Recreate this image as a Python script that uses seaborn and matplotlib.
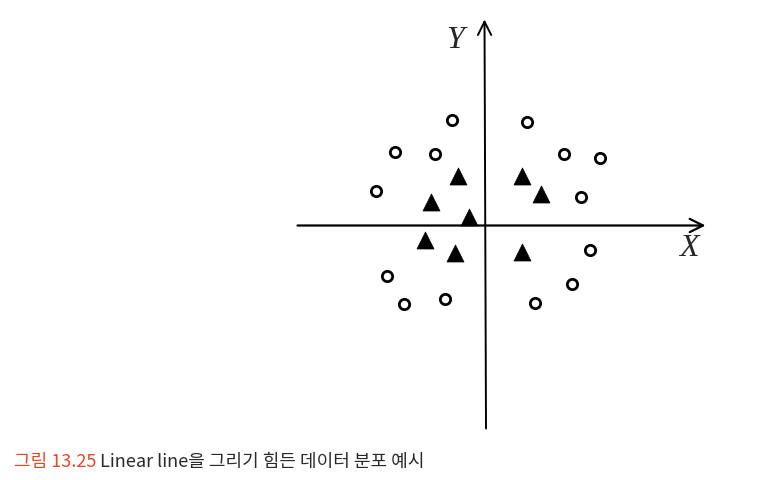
import matplotlib
matplotlib.use('Agg')
import matplotlib.pyplot as plt
import seaborn as sns
import pandas as pd

# circles (outer ring) and triangles (inner cluster)
circle_x = [-3.2, 4.3, -8.9, -4.9, 8.0, 11.6, -10.8, 9.7, 10.6, -9.7, 8.8, -8.0, -3.9, 5.1]
circle_y = [10.5, 10.3, 7.3, 7.1, 7.1, 6.7, 3.4, 2.8, -2.5, -5.1, -5.9, -7.9, -7.4, -7.8]
tri_x = [-2.7, 3.7, 5.6, -5.4, -1.6, -6.0, -3.0, 3.7]
tri_y = [5.0, 5.0, 3.2, 2.4, 0.9, -1.4, -2.7, -2.6]

circles = pd.DataFrame({'x': circle_x, 'y': circle_y})
triangles = pd.DataFrame({'x': tri_x, 'y': tri_y})

sns.set_style('white')
plt.rcParams['font.family'] = ['Noto Sans CJK KR', 'DejaVu Sans']

fig = plt.figure(figsize=(7.62, 4.81), dpi=100)
ax = fig.add_axes([0, 0, 1, 1])
ax.set_xlim(-48.45, 27.75)
ax.set_ylim(-25.45, 22.65)
ax.axis('off')

# axes with open arrow heads
ax.annotate('', xy=(22.1, 0), xytext=(-18.7, 0),
            arrowprops=dict(arrowstyle='->', lw=1.6, color='black',
                            mutation_scale=24, shrinkA=0, shrinkB=0))
ax.annotate('', xy=(0, 20.6), xytext=(0.15, -20.3),
            arrowprops=dict(arrowstyle='->', lw=1.4, color='black',
                            mutation_scale=24, shrinkA=0, shrinkB=0))

ax.text(-2.9, 18.6, 'Y', family='Liberation Serif', style='italic',
        fontsize=23, ha='center', va='center')
ax.text(20.4, -2.2, 'X', family='Liberation Serif', style='italic',
        fontsize=23, ha='center', va='center')

sns.scatterplot(data=circles, x='x', y='y', ax=ax, marker='o', s=55,
                facecolors='none', edgecolor='black', linewidth=2)
sns.scatterplot(data=triangles, x='x', y='y', ax=ax, marker='^', s=150,
                color='black', edgecolor='black', linewidth=0.5)

t1 = fig.text(14 / 762, 1 - 467 / 481, '그림 13.25', color='#e5492a',
              fontsize=13, ha='left', va='baseline')
ax.annotate(' Linear line을 그리기 힘든 데이터 분포 예시', xy=(1, 0),
            xycoords=t1, va='bottom', ha='left', fontsize=13, color='#2a2a2a')

plt.savefig('out.png', dpi=100)
